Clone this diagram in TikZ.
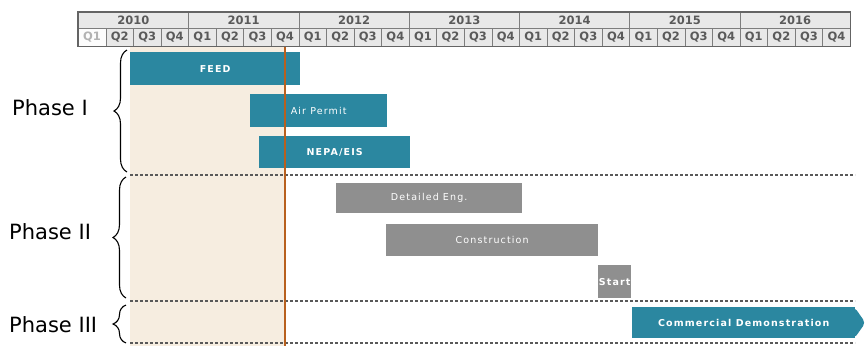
\documentclass[tikz,border=0pt]{standalone}
\usepackage{fontspec}
\setmainfont{DejaVu Sans}
\newfontfamily\barfont[LetterSpace=12]{DejaVu Sans}
\usetikzlibrary{positioning,decorations.pathreplacing}
\definecolor{ganttteal}{RGB}{43,135,160}
\definecolor{ganttgray}{RGB}{143,143,143}
\definecolor{ganttbeige}{RGB}{246,237,224}
\definecolor{todayline}{RGB}{184,96,30}
\definecolor{hdrfill}{RGB}{232,232,232}
\definecolor{hdrline}{RGB}{125,125,125}
\definecolor{hdrtext}{RGB}{90,90,90}

\begin{document}
\begin{tikzpicture}[x=1pt,y=-1pt,
        bar/.style={anchor=north west,inner sep=0pt,text=white,
                    font=\barfont\fontsize{9.5}{11}\selectfont},
        tealbar/.style={bar,fill=ganttteal},
        graybar/.style={bar,fill=ganttgray},
        phase/.style={anchor=west,inner sep=0pt,font=\fontsize{21}{25}\selectfont},
        phasebrace/.style={decorate,decoration={brace,amplitude=13pt},line width=1.1pt},
        sep/.style={densely dashed,line width=1.6pt,draw=black!65},
        hdrcell/.style={draw=hdrline,fill=hdrfill,line width=0.6pt,anchor=north west,
                        inner sep=0pt,text=hdrtext,font=\bfseries\fontsize{11.5}{13}\selectfont}]
    \useasboundingbox (0,0) rectangle (865,346);
    % timeline header
    \foreach \yr [count=\i from 0] in {2010,...,2016}
        \node[hdrcell,minimum width=110.29pt,minimum height=16pt] (y\yr) at (78+110.2857*\i,12) {\yr};
    \node[hdrcell,fill=white!85!hdrfill,text=black!30,minimum width=27.57pt,minimum height=18pt] (q0) at (78,28) {Q1};
    \foreach \i in {1,...,27} {
        \pgfmathtruncatemacro\qq{mod(\i,4)+1}
        \node[hdrcell,minimum width=27.57pt,minimum height=18pt] (q\i) at (78+27.5714*\i,28) {Q\qq};
    }
    \draw[hdrline!80!black,line width=1.5pt] (y2010.north west) rectangle (q27.south east);
    % elapsed period
    \fill[ganttbeige] (130,47) rectangle (285,346);
    \draw[sep] (130,175) -- (855,175);
    \draw[sep] (130,301) -- (855,301);
    \draw[sep] (130,343) -- (855,343);
    % phases
    \node[phase] (ph1) at (12,108) {Phase I};
    \node[phase] (ph2) at (9,232) {Phase II};
    \node[phase] (ph3) at (9,325) {Phase III};
    \draw[phasebrace] (127,172) -- (127,50);
    \draw[phasebrace] (126,298) -- (126,177);
    \draw[phasebrace] (126,343) -- (126,305);
    % tasks
    \node[tealbar,minimum width=170pt,minimum height=33pt] (feed) at (130,52) {\bfseries FEED};
    \node[tealbar,minimum width=137pt,minimum height=33pt] (air) at (250,94) {Air Permit};
    \node[tealbar,minimum width=151pt,minimum height=32pt] (nepa) at (259,136) {\bfseries NEPA/EIS};
    \node[graybar,minimum width=186pt,minimum height=30pt] (deteng) at (336,183) {Detailed Eng.};
    \node[graybar,minimum width=212pt,minimum height=32pt] (constr) at (386,224) {Construction};
    \node[graybar,minimum width=33pt,minimum height=33pt] (start) at (598,265) {\bfseries Start};
    \node[tealbar,minimum width=223pt,minimum height=31pt] (demo) at (632,307) {\bfseries Commercial Demonstration};
    \fill[ganttteal,rounded corners=4pt] ([xshift=-1pt]demo.north east) -- ([xshift=10pt]demo.east)
        -- ([xshift=-1pt]demo.south east) -- cycle;
    % today
    \draw[todayline,line width=2pt] (285,47) -- (285,346);
\end{tikzpicture}
\end{document}
